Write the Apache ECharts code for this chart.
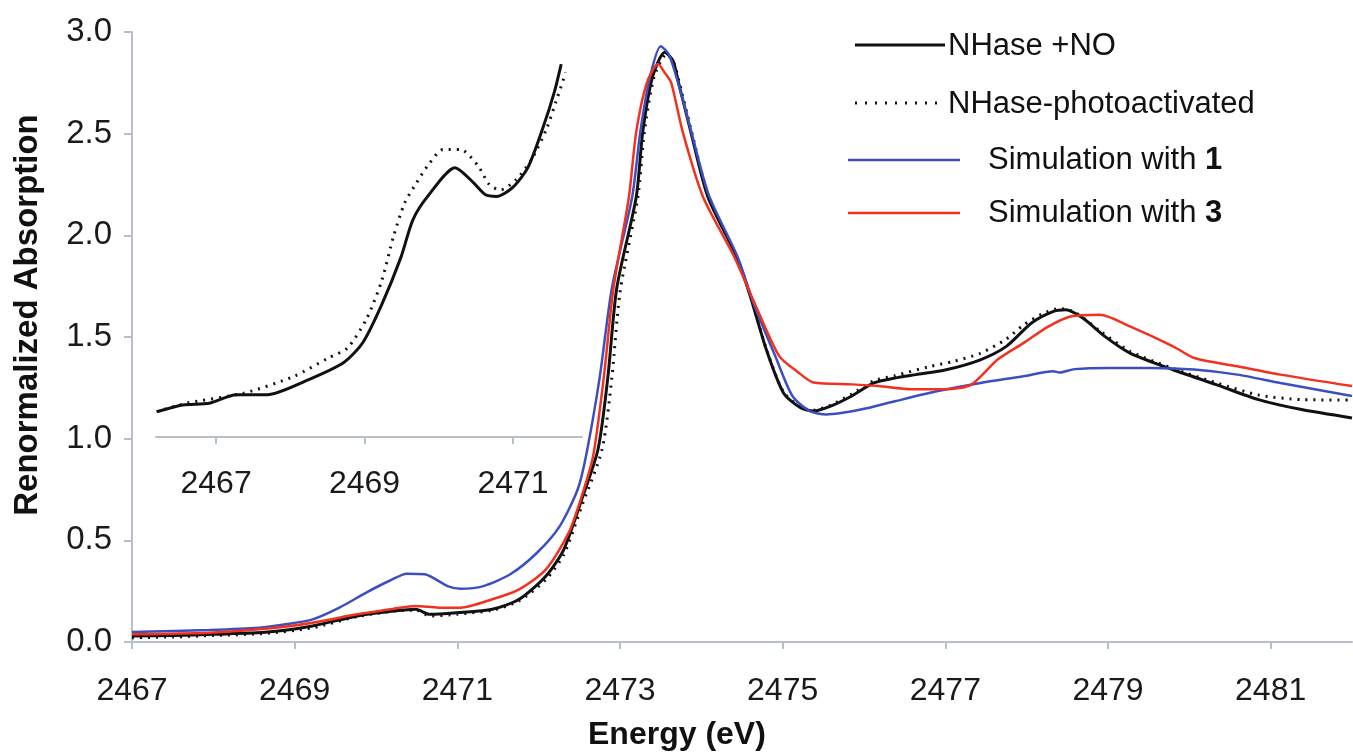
<!DOCTYPE html>
<html>
<head>
<meta charset="utf-8">
<title>S K-edge XAS</title>
<script src="https://cdn.jsdelivr.net/npm/echarts@6/dist/echarts.min.js"></script>
<style>
    html, body {margin: 0; padding: 0; background: #fff;}
    #main {width: 1353px; height: 755px;}
</style>
</head>
<body>
<div id="main"></div>
<script>
// 主图数据 [能量 eV, 归一化吸收]
var nhaseNO = [
    [2467.0, 0.030], [2467.5, 0.032], [2468.0, 0.038], [2468.67, 0.049], [2469.22, 0.079], [2469.77, 0.128],
    [2470.22, 0.152], [2470.49, 0.161], [2470.66, 0.136], [2470.99, 0.144], [2471.43, 0.161], [2471.76, 0.210],
    [2472.09, 0.325], [2472.31, 0.456], [2472.53, 0.702], [2472.73, 0.948], [2472.85, 1.30], [2472.96, 1.74],
    [2473.2, 2.19], [2473.28, 2.51], [2473.4, 2.78], [2473.55, 2.90], [2473.65, 2.86], [2473.72, 2.75],
    [2473.87, 2.51], [2474.08, 2.19], [2474.43, 1.898], [2474.59, 1.716], [2474.8, 1.437], [2475.01, 1.225],
    [2475.22, 1.152], [2475.38, 1.136], [2475.59, 1.16], [2475.85, 1.21], [2476.12, 1.274], [2476.38, 1.298],
    [2476.64, 1.315], [2477.01, 1.339], [2477.43, 1.388], [2477.75, 1.454], [2478.06, 1.569], [2478.33, 1.626],
    [2478.48, 1.634], [2478.69, 1.593], [2478.96, 1.503], [2479.27, 1.421], [2479.8, 1.339], [2480.33, 1.266],
    [2480.85, 1.192], [2481.38, 1.143], [2482.0, 1.102]
];
var nhasePhoto = [
    [2467.0, 0.021], [2467.5, 0.025], [2468.0, 0.032], [2468.67, 0.043], [2469.22, 0.070], [2469.77, 0.125],
    [2470.22, 0.152], [2470.49, 0.157], [2470.66, 0.128], [2470.99, 0.136], [2471.43, 0.157], [2471.76, 0.202],
    [2472.09, 0.308], [2472.31, 0.431], [2472.53, 0.669], [2472.78, 0.948], [2472.9, 1.30], [2473.0, 1.72],
    [2473.22, 2.19], [2473.3, 2.51], [2473.42, 2.78], [2473.57, 2.89], [2473.66, 2.85], [2473.73, 2.75],
    [2473.88, 2.51], [2474.09, 2.19], [2474.44, 1.89], [2474.6, 1.71], [2474.8, 1.44], [2475.01, 1.23],
    [2475.22, 1.155], [2475.38, 1.14], [2475.59, 1.165], [2475.85, 1.22], [2476.12, 1.285], [2476.38, 1.31],
    [2476.8, 1.354], [2477.1, 1.38], [2477.43, 1.42], [2477.75, 1.49], [2477.96, 1.559], [2478.2, 1.615],
    [2478.4, 1.64], [2478.6, 1.62], [2478.9, 1.53], [2479.27, 1.43], [2479.8, 1.345], [2480.33, 1.275],
    [2480.85, 1.215], [2481.38, 1.192], [2482.0, 1.19]
];
var sim1 = [
    [2467.0, 0.049], [2467.95, 0.059], [2468.56, 0.070], [2468.89, 0.087], [2469.22, 0.111], [2469.55, 0.169],
    [2469.88, 0.243], [2470.16, 0.300], [2470.38, 0.336], [2470.6, 0.333], [2470.88, 0.275], [2471.04, 0.262],
    [2471.32, 0.275], [2471.65, 0.333], [2471.98, 0.439], [2472.26, 0.570], [2472.48, 0.751], [2472.59, 0.931],
    [2472.75, 1.30], [2472.9, 1.74], [2473.15, 2.19], [2473.25, 2.51], [2473.37, 2.78], [2473.5, 2.93],
    [2473.6, 2.89], [2473.7, 2.77], [2473.87, 2.52], [2474.09, 2.2], [2474.45, 1.89], [2474.64, 1.667],
    [2474.91, 1.405], [2475.12, 1.21], [2475.33, 1.136], [2475.54, 1.119], [2475.96, 1.143], [2476.38, 1.184],
    [2476.91, 1.234], [2477.43, 1.274], [2477.96, 1.307], [2478.33, 1.332], [2478.4, 1.325], [2478.59, 1.342],
    [2479.01, 1.348], [2479.54, 1.348], [2480.06, 1.34], [2480.59, 1.315], [2481.12, 1.274], [2482.0, 1.21]
];
var sim3 = [
    [2467.0, 0.038], [2467.95, 0.046], [2468.67, 0.066], [2469.22, 0.095], [2469.77, 0.136], [2470.22, 0.164],
    [2470.49, 0.177], [2470.77, 0.169], [2471.04, 0.169], [2471.43, 0.210], [2471.76, 0.259], [2472.09, 0.357],
    [2472.37, 0.538], [2472.53, 0.718], [2472.67, 0.915], [2472.8, 1.30], [2472.92, 1.74], [2473.11, 2.19],
    [2473.2, 2.51], [2473.33, 2.75], [2473.47, 2.843], [2473.55, 2.80], [2473.63, 2.75], [2473.77, 2.51],
    [2474.02, 2.19], [2474.4, 1.898], [2474.69, 1.634], [2474.96, 1.405], [2475.17, 1.333], [2475.38, 1.276],
    [2475.85, 1.267], [2476.17, 1.259], [2476.59, 1.243], [2477.01, 1.243], [2477.32, 1.266], [2477.64, 1.388],
    [2477.96, 1.47], [2478.27, 1.552], [2478.54, 1.601], [2478.9, 1.609], [2479.27, 1.552], [2479.8, 1.454],
    [2480.06, 1.397], [2480.59, 1.356], [2481.12, 1.315], [2482.0, 1.259]
];

// 插图数据（前边放大，y 按主图刻度读取）
var insetNO = [
    [2466.2, 1.125], [2466.55, 1.158], [2466.91, 1.167], [2467.27, 1.209], [2467.69, 1.209], [2468.2, 1.276],
    [2468.72, 1.368], [2468.98, 1.468], [2469.23, 1.652], [2469.49, 1.887], [2469.65, 2.071], [2469.85, 2.188],
    [2470.22, 2.330], [2470.47, 2.255], [2470.63, 2.196], [2470.78, 2.188], [2470.99, 2.230], [2471.2, 2.330],
    [2471.4, 2.523], [2471.56, 2.707], [2471.65, 2.841]
];
var insetPhoto = [
    [2466.2, 1.125], [2466.6, 1.167], [2467.38, 1.217], [2468.05, 1.30], [2468.51, 1.39], [2468.77, 1.44],
    [2469.03, 1.585], [2469.23, 1.77], [2469.39, 1.99], [2469.54, 2.155], [2469.7, 2.255], [2469.85, 2.339],
    [2470.06, 2.42], [2470.29, 2.42], [2470.53, 2.339], [2470.68, 2.247], [2470.83, 2.22], [2471.04, 2.27],
    [2471.25, 2.37], [2471.45, 2.52], [2471.58, 2.657], [2471.71, 2.80]
];

// 刻度
var xTicks = [2467, 2469, 2471, 2473, 2475, 2477, 2479, 2481];
var insetTicks = [2467, 2469, 2471];

var axisColor = '#b9bfc9';
var font = 'Liberation Sans, Arial, sans-serif';
var black = '#111111';
var blue = '#3b4fbf';
var red = '#f2311f';

function lineSeries(name, data, color, width, type, xi) {
    return {
        name: name,
        type: 'line',
        xAxisIndex: xi,
        yAxisIndex: xi,
        data: data,
        smooth: 0.25,
        showSymbol: false,
        lineStyle: {color: color, width: width, type: type},
        z: 3
    };
}

// 能量刻度不要千分位
function plain(v) {
    return String(v);
}

var option = {
    animation: false,
    grid: [
        {left: 132, right: 1, top: 32, bottom: 113},
        {left: 156, top: 32, width: 426, bottom: 318}
    ],
    xAxis: [{
        type: 'value',
        gridIndex: 0,
        min: 2467,
        max: 2482,
        splitLine: {show: false},
        axisLine: {lineStyle: {color: axisColor, width: 2}},
        axisTick: {length: 7, lineStyle: {color: axisColor, width: 2}, customValues: xTicks},
        axisLabel: {margin: 33, fontSize: 32, color: '#1a1a1a', fontFamily: font, customValues: xTicks, formatter: plain}
    }, {
        type: 'value',
        gridIndex: 1,
        min: 2466.19,
        max: 2471.93,
        splitLine: {show: false},
        axisLine: {lineStyle: {color: axisColor, width: 2}},
        axisTick: {length: 7, lineStyle: {color: axisColor, width: 2}, customValues: insetTicks},
        axisLabel: {margin: 31, fontSize: 32, color: '#1a1a1a', fontFamily: font, customValues: insetTicks, formatter: plain}
    }],
    yAxis: [{
        type: 'value',
        gridIndex: 0,
        min: 0,
        max: 3,
        interval: 0.5,
        splitLine: {show: false},
        axisLine: {show: true, lineStyle: {color: axisColor, width: 2}},
        axisTick: {show: true, length: 8, lineStyle: {color: axisColor, width: 2}},
        axisLabel: {
            margin: 20, fontSize: 33, color: '#1a1a1a', fontFamily: font,
            formatter: function (v) { return v.toFixed(1); }
        }
    }, {
        type: 'value',
        gridIndex: 1,
        min: 1,
        max: 3,
        show: false
    }],
    series: [
        lineSeries('NHase-photoactivated', nhasePhoto, black, 3, [2, 6], 0),
        lineSeries('NHase +NO', nhaseNO, black, 3, 'solid', 0),
        lineSeries('Simulation with 1', sim1, blue, 2.5, 'solid', 0),
        lineSeries('Simulation with 3', sim3, red, 2.5, 'solid', 0),
        lineSeries('inset photo', insetPhoto, black, 3, [2, 6], 1),
        lineSeries('inset NO', insetNO, black, 3, 'solid', 1)
    ],
    graphic: [
        // 坐标轴标题
        {type: 'text', left: 588, top: 719, style: {text: 'Energy (eV)', font: 'bold 32px ' + font, fill: '#111'}},
        {type: 'text', x: 28, y: 315, rotation: Math.PI / 2, style: {
            text: 'Renormalized Absorption', font: 'bold 33px ' + font, fill: '#111',
            align: 'center', verticalAlign: 'middle'}},
        // 图例
        {type: 'line', shape: {x1: 855, y1: 45, x2: 945, y2: 45}, style: {stroke: black, lineWidth: 3}},
        {type: 'text', x: 948, y: 46, style: {text: 'NHase +NO', font: '31px ' + font, fill: '#111', verticalAlign: 'middle'}},
        {type: 'line', shape: {x1: 855, y1: 103, x2: 945, y2: 103}, style: {stroke: black, lineWidth: 3, lineDash: [2, 8]}},
        {type: 'text', x: 948, y: 104, style: {text: 'NHase-photoactivated', font: '31px ' + font, fill: '#111', verticalAlign: 'middle'}},
        {type: 'line', shape: {x1: 848, y1: 160, x2: 960, y2: 160}, style: {stroke: blue, lineWidth: 2.5}},
        {type: 'text', x: 988, y: 160, style: {
            text: '{n|Simulation with }{b|1}', verticalAlign: 'middle',
            rich: {n: {font: '31px ' + font, fill: '#111'}, b: {font: 'bold 31px ' + font, fill: '#111'}}}},
        {type: 'line', shape: {x1: 848, y1: 213, x2: 960, y2: 213}, style: {stroke: red, lineWidth: 2.5}},
        {type: 'text', x: 988, y: 213, style: {
            text: '{n|Simulation with }{b|3}', verticalAlign: 'middle',
            rich: {n: {font: '31px ' + font, fill: '#111'}, b: {font: 'bold 31px ' + font, fill: '#111'}}}}
    ]
};

var myChart = echarts.init(document.getElementById('main'));
myChart.setOption(option);
</script>
</body>
</html>
